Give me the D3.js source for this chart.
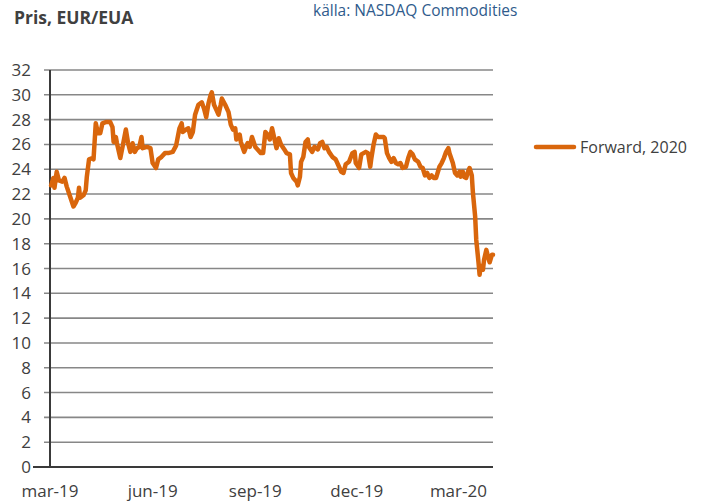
<!DOCTYPE html>
<html>
<head>
<meta charset="utf-8">
<script src="https://cdn.jsdelivr.net/npm/d3@7"></script>
<style>
  body { margin: 0; background: #fff; }
  svg { display: block; font-family: "Open Sans", sans-serif; }
</style>
</head>
<body>
<svg width="701" height="501"></svg>
<script>
// Forward 2020 price, EUR/EUA
const dates = [
  "2019-03-02","2019-03-04","2019-03-05","2019-03-07","2019-03-09","2019-03-12","2019-03-14","2019-03-16","2019-03-19","2019-03-22",
  "2019-03-24","2019-03-26","2019-03-27","2019-03-28","2019-03-31","2019-04-02","2019-04-03","2019-04-05","2019-04-08","2019-04-09",
  "2019-04-11","2019-04-13","2019-04-15","2019-04-17","2019-04-20","2019-04-24","2019-04-26","2019-04-27","2019-04-29","2019-04-30",
  "2019-05-03","2019-05-05","2019-05-08","2019-05-10","2019-05-12","2019-05-14","2019-05-16","2019-05-18","2019-05-20","2019-05-22",
  "2019-05-23","2019-05-27","2019-05-30","2019-06-01","2019-06-04","2019-06-06","2019-06-09","2019-06-12","2019-06-15","2019-06-19",
  "2019-06-22","2019-06-25","2019-06-27","2019-06-28","2019-07-01","2019-07-03","2019-07-05","2019-07-07","2019-07-09","2019-07-12",
  "2019-07-15","2019-07-17","2019-07-19","2019-07-21","2019-07-23","2019-07-24","2019-07-26","2019-07-28","2019-07-30","2019-08-01",
  "2019-08-02","2019-08-05","2019-08-08","2019-08-10","2019-08-12","2019-08-14","2019-08-15","2019-08-18","2019-08-19","2019-08-22",
  "2019-08-25","2019-08-27","2019-08-29","2019-09-01","2019-09-03","2019-09-06","2019-09-08","2019-09-10","2019-09-12","2019-09-14",
  "2019-09-16","2019-09-18","2019-09-20","2019-09-22","2019-09-24","2019-09-27","2019-09-29","2019-10-02","2019-10-03","2019-10-05",
  "2019-10-08","2019-10-09","2019-10-11","2019-10-12","2019-10-14","2019-10-16","2019-10-18","2019-10-19","2019-10-22","2019-10-24",
  "2019-10-27","2019-10-29","2019-10-31","2019-11-02","2019-11-04","2019-11-06","2019-11-09","2019-11-12","2019-11-15","2019-11-17",
  "2019-11-19","2019-11-21","2019-11-24","2019-11-27","2019-11-29","2019-11-30","2019-12-03","2019-12-05","2019-12-07","2019-12-09",
  "2019-12-11","2019-12-13","2019-12-14","2019-12-16","2019-12-18","2019-12-20","2019-12-23","2019-12-25","2019-12-26","2019-12-28",
  "2019-12-30","2020-01-01","2020-01-03","2020-01-05","2020-01-07","2020-01-09","2020-01-11","2020-01-14","2020-01-16","2020-01-18",
  "2020-01-20","2020-01-22","2020-01-25","2020-01-27","2020-01-29","2020-01-31","2020-02-02","2020-02-04","2020-02-06","2020-02-08",
  "2020-02-10","2020-02-13","2020-02-15","2020-02-17","2020-02-19","2020-02-21","2020-02-22","2020-02-25","2020-02-27","2020-02-29",
  "2020-03-02","2020-03-03","2020-03-05","2020-03-06","2020-03-08","2020-03-10","2020-03-11","2020-03-13","2020-03-14","2020-03-16",
  "2020-03-17","2020-03-19","2020-03-20","2020-03-21","2020-03-23","2020-03-24","2020-03-26","2020-03-28","2020-03-29","2020-03-31",
  "2020-04-01"
];
const forward2020 = [
  22.7,23.3,22.5,23.8,23.1,23.0,23.3,22.6,21.8,21.0,
  21.3,21.7,22.5,21.7,21.9,22.3,23.4,24.8,24.9,24.8,
  27.7,26.9,26.9,27.7,27.8,27.8,27.4,26.2,26.6,26.1,
  24.9,25.8,27.2,26.1,25.4,26.1,25.4,25.7,25.8,26.6,
  25.7,25.8,25.7,24.5,24.1,24.8,25.0,25.3,25.3,25.4,
  25.9,27.3,27.7,27.0,27.2,27.3,26.6,27.0,28.4,29.2,
  29.4,28.9,28.2,29.3,30.0,30.2,29.2,28.8,28.4,29.2,
  29.7,29.2,28.6,27.6,27.2,27.3,26.4,26.8,26.2,25.4,
  26.1,25.8,26.6,25.8,25.6,25.3,25.3,27.0,26.8,26.4,
  27.3,26.5,25.7,26.5,26.0,25.6,25.3,25.2,23.7,23.3,
  23.0,22.7,23.4,24.6,25.0,26.2,26.4,25.8,25.4,25.8,
  25.6,26.1,26.2,25.7,25.8,25.4,25.0,24.8,24.2,23.8,
  23.7,24.4,24.6,25.3,25.4,24.5,24.1,25.2,25.3,25.4,
  25.3,24.2,24.9,26.0,26.8,26.6,26.6,26.6,26.5,25.3,
  24.9,24.6,24.9,24.5,24.4,24.5,24.1,24.2,24.9,25.4,
  25.2,24.8,24.6,24.2,24.1,23.5,23.7,23.3,23.5,23.3,
  23.3,24.2,24.5,24.9,25.4,25.7,25.3,24.5,23.7,23.5,
  23.8,23.4,23.8,23.4,23.3,23.9,24.1,23.5,22.1,20.2,
  18.3,16.5,15.5,16.2,15.9,16.7,17.5,16.8,16.5,17.1,
  17.1
];
const xTickDates = ["2019-03-01","2019-06-01","2019-09-01","2019-12-01","2020-03-01"];
const yTicks = d3.range(0, 33, 2);
const seriesName = "Forward, 2020";

const parse = d3.timeParse("%Y-%m-%d");
const data = dates.map((d, i) => ({ date: parse(d), value: forward2020[i] }));

const svg = d3.select("svg");
const textColor = "#404040";
const lineColor = "#d9660c";

const plot = { left: 50, right: 493, top: 70, bottom: 467 };

const x = d3.scaleTime()
  .domain([parse("2019-03-01"), parse("2020-04-01")])
  .range([plot.left, plot.right]);
const y = d3.scaleLinear().domain([0, 32]).range([plot.bottom, plot.top]);

// gridlines
svg.append("g")
  .selectAll("line")
  .data(yTicks.filter(t => t > 0))
  .join("line")
  .attr("x1", plot.left - 6).attr("x2", plot.right)
  .attr("y1", d => y(d)).attr("y2", d => y(d))
  .attr("stroke", "#878787")
  .attr("stroke-width", 1.6);

// y labels
svg.append("g")
  .selectAll("text")
  .data(yTicks)
  .join("text")
  .attr("x", 31)
  .attr("y", d => y(d) + 6)
  .attr("text-anchor", "end")
  .attr("font-size", 17)
  .attr("fill", textColor)
  .text(d => d);

// axis lines
svg.append("line")
  .attr("x1", plot.left).attr("x2", plot.left)
  .attr("y1", plot.top).attr("y2", plot.bottom)
  .attr("stroke", "#3a3a3a").attr("stroke-width", 2);
svg.append("line")
  .attr("x1", 33).attr("x2", plot.right)
  .attr("y1", plot.bottom).attr("y2", plot.bottom)
  .attr("stroke", "#3a3a3a").attr("stroke-width", 2);

// x labels
const fmt = d3.timeFormat("%b-%y");
svg.append("g")
  .selectAll("text")
  .data(xTickDates.map(parse))
  .join("text")
  .attr("x", d => x(d))
  .attr("y", 497)
  .attr("text-anchor", "middle")
  .attr("font-size", 17)
  .attr("fill", textColor)
  .text(d => fmt(d).toLowerCase());

// series
const line = d3.line()
  .x(d => x(d.date))
  .y(d => y(d.value));

svg.append("path")
  .datum(data)
  .attr("d", line)
  .attr("fill", "none")
  .attr("stroke", lineColor)
  .attr("stroke-width", 4.5)
  .attr("stroke-linejoin", "round")
  .attr("stroke-linecap", "round");

// title and source
svg.append("text")
  .attr("x", 14).attr("y", 24)
  .attr("font-size", 17.5)
  .attr("font-weight", "bold")
  .attr("fill", textColor)
  .text("Pris, EUR/EUA");

svg.append("text")
  .attr("x", 313).attr("y", 16)
  .attr("font-size", 15.5)
  .attr("fill", "#2f5b8c")
  .text("källa: NASDAQ Commodities");

// legend
const legend = svg.append("g").attr("transform", "translate(536,147)");
legend.append("line")
  .attr("x1", 0).attr("x2", 38)
  .attr("stroke", lineColor).attr("stroke-width", 4.5)
  .attr("stroke-linecap", "round");
legend.append("text")
  .attr("x", 44).attr("y", 6)
  .attr("font-size", 16)
  .attr("fill", textColor)
  .text(seriesName);
</script>
</body>
</html>
